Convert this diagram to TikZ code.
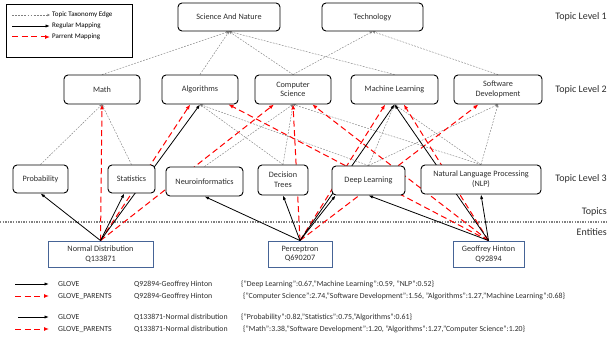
\documentclass[tikz,border=0pt]{standalone}
\usepackage{fontspec}
\setmainfont{Carlito}
\usetikzlibrary{arrows.meta,backgrounds,calc}
\definecolor{entblue}{RGB}{70,100,150}
\definecolor{txtgray}{RGB}{45,45,45}
\begin{document}
\begin{tikzpicture}[x=1pt,y=-1pt,
  tbox/.style={draw=black, line width=0.9pt, rounded corners=4pt, fill=white, align=center,
    font=\fontsize{8.2}{9.6}\selectfont, text=txtgray, inner sep=1pt},
  ebox/.style={draw=entblue, line width=0.9pt, fill=white, align=center,
    font=\fontsize{8.2}{9.6}\selectfont, text=txtgray, inner sep=1pt},
  lvl/.style={font=\fontsize{10}{11}\selectfont, text=txtgray, anchor=east, inner sep=0pt},
  legtxt/.style={font=\fontsize{7}{8}\selectfont, text=black, anchor=west, inner sep=0pt},
  bottxt/.style={font=\fontsize{7.8}{9}\selectfont, text=txtgray, anchor=west, inner sep=0pt},
  tax/.style={draw=gray, dash pattern=on 1.8pt off 1.3pt, line width=0.45pt,
    -{Stealth[length=3pt,width=2.6pt]}},
  reg/.style={draw=black, line width=0.8pt, -{Latex[length=4.5pt,width=3.2pt]}},
  par/.style={draw=red, line width=1pt, dash pattern=on 6pt off 3.5pt,
    -{Latex[length=5pt,width=4pt]}},
  sep/.style={draw=gray, line width=1.8pt, dash pattern=on 1.4pt off 1.2pt}
]
\useasboundingbox (0,0) rectangle (608,339);

% legend box
\node[draw=black, line width=0.8pt, minimum width=126pt, minimum height=53pt, inner sep=0pt] (legbox) at (69,30.5) {};
\coordinate (la1) at (12,15); \coordinate (lb1) at (50,15);
\coordinate (la2) at (12,26); \coordinate (lb2) at (50,26);
\coordinate (la3) at (12,37); \coordinate (lb3) at (50,37);
\node[legtxt] (lt1) at (52,15) {Topic Taxonomy Edge};
\node[legtxt] (lt2) at (52,26) {Regular Mapping};
\node[legtxt] (lt3) at (52,37) {Parrent Mapping};

% level 1
\node[tbox, minimum width=102pt, minimum height=28pt] (san) at (229,17) {Science And Nature};
\node[tbox, minimum width=101pt, minimum height=28pt] (tech) at (372.5,17) {Technology};
% level 2
\node[tbox, minimum width=76pt, minimum height=29pt] (math) at (102,89.5) {Math};
\node[tbox, minimum width=76pt, minimum height=29pt] (alg) at (200,89.5) {Algorithms};
\node[tbox, minimum width=76pt, minimum height=29pt] (cs) at (293,89.5) {Computer\\Science};
\node[tbox, minimum width=87pt, minimum height=29pt] (ml) at (394.5,89.5) {Machine Learning};
\node[tbox, minimum width=88pt, minimum height=29pt] (sd) at (498,89.5) {Software\\Development};
% level 3
\node[tbox, minimum width=55pt, minimum height=28pt] (prob) at (40.5,179) {Probability};
\node[tbox, minimum width=47pt, minimum height=28pt] (stat) at (131.5,179) {Statistics};
\node[tbox, minimum width=77pt, minimum height=29pt] (neuro) at (204.5,181.5) {Neuroinformatics};
\node[tbox, minimum width=50pt, minimum height=30pt] (dt) at (283,180) {Decision\\Trees};
\node[tbox, minimum width=73pt, minimum height=29pt] (dl) at (368.5,180.5) {Deep Learning};
\node[tbox, minimum width=120pt, minimum height=29pt] (nlp) at (481,179.5) {Natural Language Processing\\(NLP)};
% entities
\node[ebox, minimum width=105pt, minimum height=26pt] (nd) at (100.5,254) {Normal Distribution\\Q133871};
\node[ebox, minimum width=64pt, minimum height=26pt] (pc) at (300,254) {Perceptron\\Q690207};
\node[ebox, minimum width=71pt, minimum height=26pt] (gh) at (488.5,254) {Geoffrey Hinton\\Q92894};

% level labels
\node[lvl] (l1) at (607,17) {Topic Level 1};
\node[lvl] (l2) at (607,90) {Topic Level 2};
\node[lvl] (l3) at (607,179) {Topic Level 3};
\node[lvl] (ltop) at (607,212) {Topics};
\node[lvl] (lent) at (607,232) {Entities};

\coordinate (sepL) at (0,222);
\coordinate (sepR) at (608,222);

% bottom legend
\coordinate (ba1) at (15,284); \coordinate (bb1) at (49,284);
\coordinate (ba2) at (15,296); \coordinate (bb2) at (49,296);
\coordinate (ba3) at (18,317); \coordinate (bb3) at (49,317);
\coordinate (ba4) at (15,329); \coordinate (bb4) at (49,329);
\node[bottxt] (g1) at (58,284) {GLOVE};
\node[bottxt] (g2) at (58,296) {GLOVE\_PARENTS};
\node[bottxt] (g3) at (58,317) {GLOVE};
\node[bottxt] (g4) at (58,329) {GLOVE\_PARENTS};
\node[bottxt] (q1) at (134,284) {Q92894-Geoffrey Hinton};
\node[bottxt] (q2) at (134,296) {Q92894-Geoffrey Hinton};
\node[bottxt] (q3) at (134,317) {Q133871-Normal distribution};
\node[bottxt] (q4) at (134,329) {Q133871-Normal distribution};
\node[bottxt] (v1) at (241,284) {\{"Deep Learning":0.67,"Machine Learning":0.59, "NLP":0.52\}};
\node[bottxt] (v2) at (243,296) {\{"Computer Science":2.74,"Software Development":1.56, "Algorithms":1.27,"Machine Learning":0.68\}};
\node[bottxt] (v3) at (241,317) {\{"Probability":0.82,"Statistics":0.75,"Algorithms":0.61\}};
\node[bottxt] (v4) at (243,329) {\{"Math":3.38,"Software Development":1.20, "Algorithms":1.27,"Computer Science":1.20\}};

\begin{pgfonlayer}{background}
% legend arrows
\draw[tax] (la1) -- (lb1);
\draw[reg] (la2) -- (lb2);
\draw[par] (la3) -- (lb3);
\draw[reg] (ba1) -- (bb1);
\draw[par] (ba2) -- (bb2);
\draw[reg] (ba3) -- (bb3);
\draw[par] (ba4) -- (bb4);
% separator
\draw[sep] (sepL) -- (sepR);
% taxonomy edges
\draw[tax] (math.north) -- (san.south);
\draw[tax] (alg.north) -- (san.south);
\draw[tax] (cs.north) -- (san.south);
\draw[tax] (ml.north) -- (san.south);
\draw[tax] (cs.north) -- (tech.south);
\draw[tax] (sd.north) -- (tech.south);
\draw[tax] (prob.north) -- (math.south);
\draw[tax] (stat.north) -- (math.south);
\draw[tax] (neuro.north) -- (cs.south);
\draw[tax] (dt.north) -- (cs.south);
\draw[tax] (dt.north) -- (alg.south);
\draw[tax] (dl.north) -- (alg.south);
\draw[tax] (dl.north) -- (ml.south);
\draw[tax] (dl.north) -- (sd.south);
\draw[tax] (nlp.north) -- (cs.south);
\draw[tax] (nlp.north) -- (ml.south);
\draw[tax] (nlp.north) -- (sd.south);
% parent mappings
\draw[par] (nd.north) -- (math.south);
\draw[par] (nd.north) -- (alg);
\draw[par] (nd.north) -- (cs);
\draw[par] (pc.north) -- (cs.south);
\draw[par] (pc.north) -- (ml);
\draw[par] (pc.north) -- (sd);
\draw[par] (gh.north) -- (cs);
\draw[par] (gh.north) -- (alg);
\draw[par] (gh.north) -- (ml);
% regular mappings
\draw[reg] (nd.north) -- (prob.south);
\draw[reg] (nd.north) -- (stat);
\draw[reg] (nd.north) -- (alg.south);
\draw[reg] (pc.north) -- (neuro.south);
\draw[reg] (pc.north) -- (dt.south);
\draw[reg] (pc.north) -- ($(dl.south west)+(4,0)$);
\draw[reg] (pc.north) -- (ml.south);
\draw[reg] (gh.north) -- (dl.south);
\draw[reg] (gh.north) -- (nlp.south);
\draw[reg] (gh.north) -- (ml.south);
\end{pgfonlayer}
\end{tikzpicture}
\end{document}
